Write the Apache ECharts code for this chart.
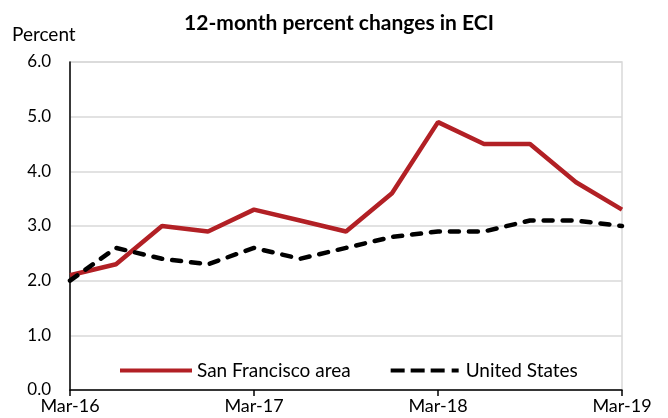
<!DOCTYPE html>
<html>
<head>
<meta charset="utf-8">
<script src="https://cdn.jsdelivr.net/npm/echarts@6/dist/echarts.min.js"></script>
<style>
  html, body { margin: 0; padding: 0; background: #fff; }
  #chart { width: 668px; height: 418px; }
</style>
</head>
<body>
<div id="chart"></div>
<script>
// Quarterly reference periods
const quarters = ['Mar-16','Jun-16','Sep-16','Dec-16','Mar-17','Jun-17','Sep-17','Dec-17',
                  'Mar-18','Jun-18','Sep-18','Dec-18','Mar-19'];
// 12-month percent changes
const sanFrancisco = [2.1, 2.3, 3.0, 2.9, 3.3, 3.1, 2.9, 3.6, 4.9, 4.5, 4.5, 3.8, 3.3];
const unitedStates = [2.0, 2.6, 2.4, 2.3, 2.6, 2.4, 2.6, 2.8, 2.9, 2.9, 3.1, 3.1, 3.0];
const yTicks = [0, 1, 2, 3, 4, 5, 6];

const FONT = 'Lato, "Open Sans", sans-serif';
const chart = echarts.init(document.getElementById('chart'));

// legend keys: a solid bar and a dash-dash-dash-dot bar
const solidKey = 'path://M0,0h72v4h-72z';
const dashedKey = 'path://M0,0h14v4h-14z M20,0h14v4h-14z M40,0h14v4h-14z M61,0h7v4h-7z';

chart.setOption({
  animation: false,
  backgroundColor: '#fff',
  title: {
    text: '12-month percent changes in ECI',
    left: 334, textAlign: 'center', top: 8,
    textStyle: { fontFamily: FONT, fontSize: 21, fontWeight: 'bold', color: '#000' }
  },
  graphic: [{
    type: 'text', left: 12, top: 25,
    style: { text: 'Percent', font: '19px ' + FONT, fill: '#000' }
  }],
  legend: {
    left: 115, top: 356,
    itemWidth: 72, itemHeight: 4, itemGap: 40,
    textStyle: { fontFamily: FONT, fontSize: 19, color: '#000' },
    data: [
      { name: 'San Francisco area', icon: solidKey, itemStyle: { color: '#b22025' } },
      { name: 'United States', icon: dashedKey, itemStyle: { color: '#000' } }
    ]
  },
  grid: {
    left: 70, right: 46, top: 62, bottom: 28,
    show: true, borderColor: '#d9d9d9', borderWidth: 1.5
  },
  xAxis: {
    type: 'category', data: quarters, boundaryGap: false,
    axisLine: { lineStyle: { color: '#000', width: 1.5 } },
    axisTick: { show: true, interval: 3, length: 6, lineStyle: { color: '#000', width: 1.5 } },
    axisLabel: { interval: 3, fontFamily: FONT, fontSize: 18, color: '#000', margin: 7 },
    splitLine: { show: false }
  },
  yAxis: {
    type: 'value', min: yTicks[0], max: yTicks[yTicks.length - 1], interval: 1,
    axisLine: { show: true, lineStyle: { color: '#000', width: 1.5 } },
    axisTick: { show: false },
    axisLabel: { fontFamily: FONT, fontSize: 17, color: '#000', margin: 19,
                 formatter: v => v.toFixed(1) },
    splitLine: { lineStyle: { color: '#d9d9d9', width: 1.5 } }
  },
  series: [
    {
      name: 'San Francisco area', type: 'line', data: sanFrancisco,
      symbol: 'none', color: '#b22025',
      lineStyle: { color: '#b22025', width: 4.5 }
    },
    {
      name: 'United States', type: 'line', data: unitedStates,
      symbol: 'none', color: '#000',
      lineStyle: { color: '#000', width: 4.5, type: [9, 10], cap: 'round' },
      z: 3
    }
  ]
});
</script>
</body>
</html>
